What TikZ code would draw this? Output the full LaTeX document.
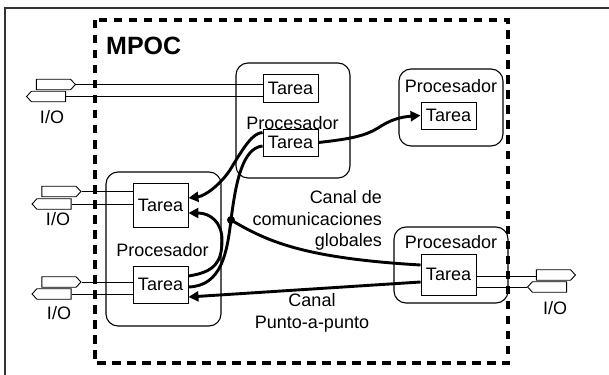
\documentclass[tikz,border=0pt]{standalone}
\usepackage{fontspec}
\setmainfont{Liberation Sans}
\usetikzlibrary{shapes.symbols, arrows.meta, calc}
\begin{document}
\begin{tikzpicture}[x=1pt, y=-1pt,
  every node/.style={font=\fontsize{18}{21.5}\selectfont, inner sep=0pt},
  frame/.style={line width=2.2pt, draw=black!80},
  mpocbox/.style={line width=3.2pt, dash pattern=on 8.5pt off 6.5pt},
  proc/.style={draw, rounded corners=12pt, line width=1.1pt},
  task/.style={draw, line width=0.9pt, minimum width=55pt},
  ioright/.style={draw, line width=0.9pt, signal, signal to=east, signal pointer angle=95, minimum width=39pt, minimum height=10.5pt},
  ioleft/.style={draw, line width=0.9pt, signal, signal to=west, signal pointer angle=95, minimum width=39pt, minimum height=10.5pt},
  wire/.style={line width=0.9pt},
  chan/.style={line width=2.9pt},
  tip/.style={-{Triangle[length=10pt,width=10pt]}}
]
\useasboundingbox (0,0) rectangle (609,374);
% outer frame and MPOC boundary
\draw[frame] (5,380) -- (5,8) -- (615,8);
\draw[mpocbox] (95,20) rectangle (508,363);
\node[font=\fontsize{25}{28}\selectfont\bfseries, anchor=west] (mpoc) at (106,45.5) {MPOC};

% processors
\node[proc, minimum width=114pt, minimum height=115pt] (p1) at (293,120.5) {};
\node[proc, minimum width=104pt, minimum height=77pt] (p2) at (451,107.5) {};
\node[proc, minimum width=115pt, minimum height=154pt] (p3) at (163.5,249) {};
\node[proc, minimum width=114pt, minimum height=76pt] (p4) at (451,265) {};
\node (l1) at (292.5,123) {Procesador};
\node (l2) at (451,86) {Procesador};
\node (l3) at (162.5,250) {Procesador};
\node (l4) at (451,242) {Procesador};

% tasks
\node[task, minimum height=28pt] (t1) at (290.5,88) {Tarea};
\node[task, minimum height=27pt] (t2) at (290.5,142.5) {Tarea};
\node[task, minimum height=27pt] (t6) at (448.5,115.5) {Tarea};
\node[task, minimum height=44pt] (t3) at (160.5,205) {Tarea};
\node[task, minimum height=37pt] (t5) at (160.5,284.5) {Tarea};
\node[task, minimum height=41pt] (t4) at (448.5,274.5) {Tarea};

% I/O ports
\node[ioright] (a1) at (53.5,84.5) {};
\node[ioleft] (b1) at (48.5,96.5) {};
\node[ioright] (a2) at (59,191.5) {};
\node[ioleft] (b2) at (54,204) {};
\node[ioright] (a3) at (59,282) {};
\node[ioleft] (b3) at (54,294) {};
\node[ioright] (a4) at (553.5,275) {};
\node[ioleft] (b4) at (549.5,287) {};
\node (io1) at (52,117) {I/O};
\node (io2) at (58,219) {I/O};
\node (io3) at (59,313) {I/O};
\node (io4) at (555,308) {I/O};

\draw[wire] (a1.east) -- (a1.east -| t1.west);
\draw[wire] (b1.east) -- (b1.east -| t1.west);
\draw[wire] (a2.east) -- (a2.east -| t3.west);
\draw[wire] (b2.east) -- (b2.east -| t3.west);
\draw[wire] (a3.east) -- (a3.east -| t5.west);
\draw[wire] (b3.east) -- (b3.east -| t5.west);
\draw[wire] (a4.west |- 0,276.5) -- (t4.east |- 0,276.5);
\draw[wire] (b4.west) -- (b4.west -| t4.east);

% channel labels
\node[anchor=east, align=right] (cg) at (382,220.5) {Canal de\\comunicaciones\\globales};
\node[align=center] (cp) at (312,313) {Canal\\Punto-a-punto};

% channels
\node[circle, fill, minimum size=8pt] (dot) at (231,220) {};
\draw[chan, tip] (t2.east) .. controls (350,139) and (365,136) .. (378,128)
  .. controls (390,120) and (400,117) .. (t6.west);
\draw[chan, tip] ($(t2.north west)+(0,4)$) .. controls (253,133) and (245,145) .. (230,170)
  .. controls (220,185) and (205,196) .. ($(t3.east)+(0,-7)$);
\draw[chan] ($(t2.west)+(0,3.5)$) .. controls (243,148) and (236,180) .. (dot.center)
  .. controls (227,252) and (222,286) .. ($(t5.east)+(0,2.5)$);
\draw[chan, tip] ($(t5.east)+(0,-8.5)$) .. controls (215,272) and (222,262) .. (222,240)
  .. controls (222,222) and (210,213) .. ($(t3.east)+(0,8)$);
\draw[chan] (dot.center) .. controls (265,240) and (300,258) .. ($(t4.west)+(0,-9.5)$);
\draw[chan, tip] ($(t4.west)+(0,7.5)$) -- ($(t5.east)+(0,12.5)$);
\end{tikzpicture}
\end{document}
